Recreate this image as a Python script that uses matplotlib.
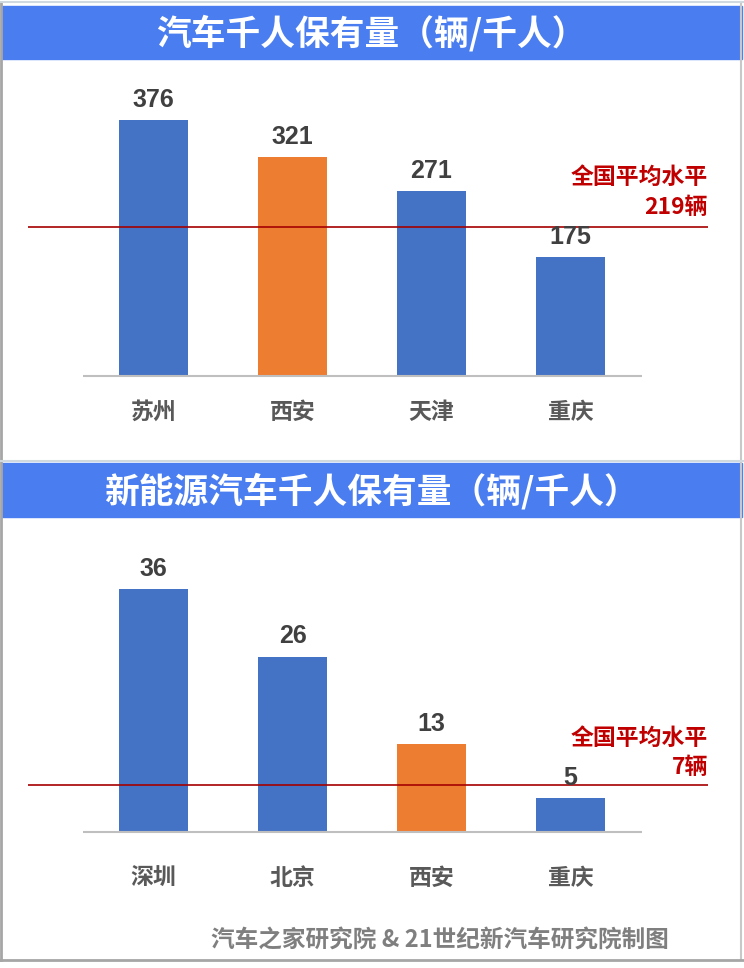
import numpy as np
import matplotlib.pyplot as plt
from matplotlib.patches import Rectangle

plt.rcParams['font.family'] = ['Liberation Sans', 'Noto Sans CJK SC', 'DejaVu Sans']

# data
title1 = '汽车千人保有量（辆/千人）'
cities1 = ['苏州', '西安', '天津', '重庆']
values1 = [376, 321, 271, 175]
avg1 = 219

title2 = '新能源汽车千人保有量（辆/千人）'
cities2 = ['深圳', '北京', '西安', '重庆']
values2 = [36, 26, 13, 5]
avg2 = 7

highlight = '西安'
source = '汽车之家研究院 & 21世纪新汽车研究院制图'

W, H = 744, 968
blue = '#4472c4'
orange = '#ed7d31'
head = '#4a7ef0'
cjk = ['Noto Sans CJK SC', 'DejaVu Sans']

fig = plt.figure(figsize=(W / 100, H / 100), dpi=100)

# background layer in pixel coords
bg = fig.add_axes([0, 0, 1, 1])
bg.set_xlim(0, W)
bg.set_ylim(H, 0)
bg.axis('off')
bg.plot([1, 1], [2, 960], color='#a6a6a6', lw=2)
bg.plot([741, 741], [2, 960], color='#c8c8c8', lw=1.5)
bg.plot([0, 744], [960, 960], color='#a6a6a6', lw=2)
bg.plot([0, 744], [2, 2], color='#d0d8e0', lw=1.5)
bg.plot([0, 744], [461, 461], color='#d0d8e0', lw=1.5)
for y0, y1, t in [(6, 59, title1), (463, 517, title2)]:
    bg.add_patch(Rectangle((2, y0), 740, y1 - y0, color=head))
    bg.text(371, (y0 + y1) / 2 + 1, t, color='white', fontsize=25,
            fontweight='bold', ha='center', va='center', family=cjk)
bg.text(440, 940, source, color='#7f7f7f', fontsize=17, fontweight='bold',
        ha='center', va='center', family=cjk)


def panel(base_px, top_px, top_val, cities, values, avg, gap, pad):
    # axes from x=28 to 708 px; bar centres at 153.5 + 139*i
    left, right = 28, 708
    ax = fig.add_axes([left / W, 1 - base_px / H, (right - left) / W,
                       (base_px - top_px) / H])
    x = np.arange(len(cities))
    colors = [orange if c == highlight else blue for c in cities]
    ax.bar(x, values, width=0.5, color=colors, zorder=2)
    ax.set_xlim((left - 153.5) / 139, (right - 153.5) / 139)
    ax.set_ylim(0, top_val)
    ax.hlines(0, (83 - 153.5) / 139, (642 - 153.5) / 139, color='#bfbfbf',
              lw=1.5, clip_on=False, zorder=3)
    ax.axhline(avg, color='#a50000', lw=1.2, zorder=4)
    for xi, v in zip(x, values):
        ax.annotate(str(v), (xi, v), xytext=(0, 6), textcoords='offset points',
                    ha='center', va='bottom', fontsize=18, fontweight='bold',
                    color='#404040', zorder=5)
    tr = ax.get_yaxis_transform()
    ax.annotate(f'{avg}辆', (1.0, avg), xycoords=tr, xytext=(0, gap),
                textcoords='offset points', ha='right', va='bottom',
                fontsize=16.5, fontweight='bold', color='#c00000', family=cjk)
    ax.annotate('全国平均水平', (1.0, avg), xycoords=tr, xytext=(0, gap + 21),
                textcoords='offset points', ha='right', va='bottom',
                fontsize=16.5, fontweight='bold', color='#c00000', family=cjk)
    ax.set_xticks(x)
    ax.set_xticklabels(cities, fontsize=16.5, fontweight='bold', color='#595959',
                       family=cjk)
    ax.tick_params(axis='x', length=0, pad=pad)
    ax.set_yticks([])
    for s in ax.spines.values():
        s.set_visible(False)
    ax.patch.set_alpha(0)
    return ax


panel(376, 90, 376 * 286 / 256, cities1, values1, avg1, 6, 18)
panel(832, 548, 36 * 284 / 243, cities2, values2, avg2, 4, 25)

fig.savefig('out.png', dpi=100)
